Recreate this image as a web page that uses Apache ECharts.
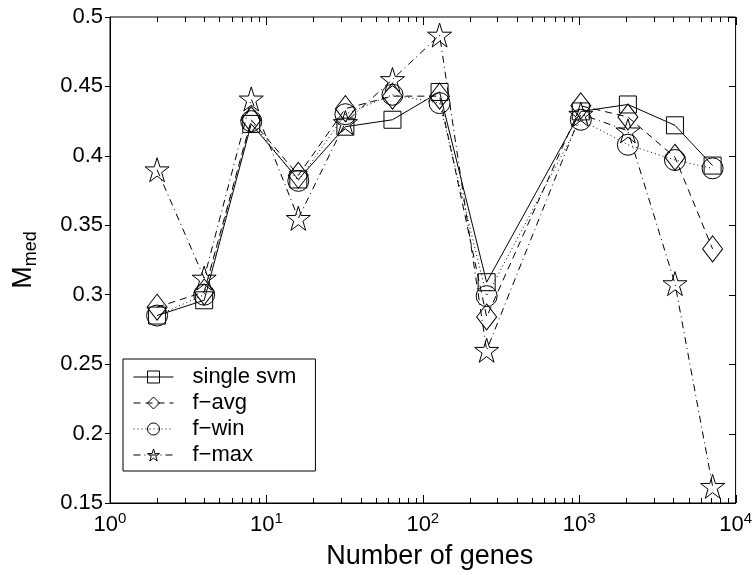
<!DOCTYPE html>
<html>
<head>
<meta charset="utf-8">
<script src="https://cdn.jsdelivr.net/npm/echarts@6/dist/echarts.min.js"></script>
<style>
  html, body { margin: 0; padding: 0; background: #fff; }
  #chart { width: 755px; height: 575px; }
</style>
</head>
<body>
<div id="chart"></div>
<script>
// number of genes on the x axis
const genes = [2, 4, 8, 16, 32, 64, 128, 256, 1024, 2048, 4096, 7129]
// M_med for each method
const singleSvm = [0.285, 0.296, 0.423, 0.383, 0.421, 0.426, 0.446, 0.309, 0.432, 0.437, 0.422, 0.393]
const fAvg = [0.291, 0.302, 0.426, 0.386, 0.434, 0.443, 0.443, 0.284, 0.436, 0.428, 0.399, 0.333]
const fWin = [0.285, 0.300, 0.425, 0.382, 0.430, 0.444, 0.438, 0.299, 0.426, 0.408, 0.397, 0.391]
const fMax = [0.390, 0.312, 0.441, 0.355, 0.424, 0.455, 0.487, 0.260, 0.430, 0.418, 0.308, 0.162]
const seriesNames = ['single svm', 'f\u2212avg', 'f\u2212win', 'f\u2212max']
// tick values
const xMajorTicks = [1, 10, 100, 1000, 10000]
const xMinorTicks = [2, 3, 4, 5, 6, 7, 8, 9, 20, 30, 40, 50, 60, 70, 80, 90,
  200, 300, 400, 500, 600, 700, 800, 900, 2000, 3000, 4000, 5000, 6000, 7000, 8000, 9000]
const yTickValues = [0.15, 0.2, 0.25, 0.3, 0.35, 0.4, 0.45, 0.5]

const FONT = '"Liberation Sans", Arial, Helvetica, sans-serif'
const STAR = 'path://M50,0 L61.2,34.5 L97.6,34.5 L68.2,55.9 L79.4,90.5 L50,69.1 L20.6,90.5 L31.8,55.9 L2.4,34.5 L38.8,34.5 Z'
const Y_MIN = 0.15
const Y_MAX = 0.5
const X_MIN = 1
const X_MAX = 10000

const pairs = vals => genes.map((g, i) => [g, vals[i]])

const chart = echarts.init(document.getElementById('chart'))

const mkSeries = (name, vals, dash, symbol, size) => ({
  name: name,
  type: 'line',
  data: pairs(vals),
  symbol: symbol,
  symbolSize: size,
  showSymbol: true,
  lineStyle: { color: '#000', width: 1, type: dash },
  itemStyle: { color: 'rgba(255,255,255,0)', borderColor: '#000', borderWidth: 1 },
  emphasis: { disabled: true }
})

const option = {
  animation: false,
  color: ['#000'],
  grid: {
    left: 110, right: 17, top: 17, bottom: 63,
    show: true, borderColor: '#000', borderWidth: 1, backgroundColor: 'rgba(0,0,0,0)'
  },
  legend: {
    orient: 'vertical',
    left: 123,
    top: 359,
    itemWidth: 40,
    itemHeight: 15,
    itemGap: 4,
    padding: [7, 19, 5, 10],
    borderColor: '#000',
    borderWidth: 1,
    backgroundColor: '#fff',
    itemStyle: { color: 'rgba(255,255,255,0)', borderColor: '#000', borderWidth: 1 },
    lineStyle: { color: '#000', width: 1 },
    textStyle: { color: '#000', fontSize: 22, fontFamily: FONT, padding: [0, 0, 0, 14] },
    data: seriesNames
  },
  xAxis: {
    type: 'log',
    logBase: 10,
    min: X_MIN,
    max: X_MAX,
    name: 'Number of genes',
    nameLocation: 'middle',
    nameGap: 40,
    nameTextStyle: { color: '#000', fontSize: 27, fontFamily: FONT, padding: [0, 0, 0, 14] },
    axisLine: { show: true, lineStyle: { color: '#000', width: 1 } },
    axisTick: { show: false },
    splitLine: { show: false },
    axisLabel: {
      margin: 8,
      formatter: v => '{b|10}{s|' + Math.round(Math.log10(v)) + '}',
      rich: {
        b: { fontSize: 22, fontFamily: FONT, color: '#000' },
        s: { fontSize: 15, fontFamily: FONT, color: '#000', padding: [0, 0, 12, 0] }
      }
    }
  },
  yAxis: {
    type: 'value',
    min: Y_MIN,
    max: Y_MAX,
    interval: 0.05,
    name: '{m|M}{s|med}',
    nameLocation: 'middle',
    nameGap: 70,
    nameTextStyle: {
      rich: {
        m: { fontSize: 27, fontFamily: FONT, color: '#000' },
        s: { fontSize: 18, fontFamily: FONT, color: '#000', padding: [14, 0, 0, 0] }
      }
    },
    axisLine: { show: true, lineStyle: { color: '#000', width: 1 } },
    axisTick: { show: true, inside: false, length: 5, lineStyle: { color: '#000', width: 1 } },
    splitLine: { show: false },
    axisLabel: {
      margin: 7,
      color: '#000',
      fontSize: 22,
      fontFamily: FONT,
      formatter: v => String(+v.toFixed(2))
    }
  },
  series: [
    mkSeries(seriesNames[0], singleSvm, 'solid', 'rect', 17),
    mkSeries(seriesNames[1], fAvg, [7, 5], 'diamond', [20, 26]),
    mkSeries(seriesNames[2], fWin, [1, 3], 'circle', 21),
    mkSeries(seriesNames[3], fMax, [7, 4, 1, 4], STAR, 24)
  ]
}

chart.setOption(option)

// box ticks (inside) on the bottom, top and right edges, placed through the chart's own scales
const toPx = (x, y) => chart.convertToPixel({ gridIndex: 0 }, [x, y])
const crisp = v => Math.round(v) + 0.5
const tick = (p, dx, dy) => {
  const x = dx === 0 ? crisp(p[0]) : Math.round(p[0])
  const y = dy === 0 ? crisp(p[1]) : Math.round(p[1])
  return {
    type: 'line',
    silent: true,
    z: 50,
    shape: { x1: x, y1: y, x2: x + dx, y2: y + dy },
    style: { stroke: '#000', lineWidth: 1 }
  }
}
const ticks = []
xMajorTicks.forEach(v => {
  ticks.push(tick(toPx(v, Y_MIN), 0, -8))
  ticks.push(tick(toPx(v, Y_MAX), 0, 8))
})
xMinorTicks.forEach(v => {
  ticks.push(tick(toPx(v, Y_MIN), 0, -5))
  ticks.push(tick(toPx(v, Y_MAX), 0, 5))
})
yTickValues.forEach(v => {
  ticks.push(tick(toPx(X_MAX, v), -7, 0))
})
chart.setOption({ graphic: { elements: ticks } })
</script>
</body>
</html>
